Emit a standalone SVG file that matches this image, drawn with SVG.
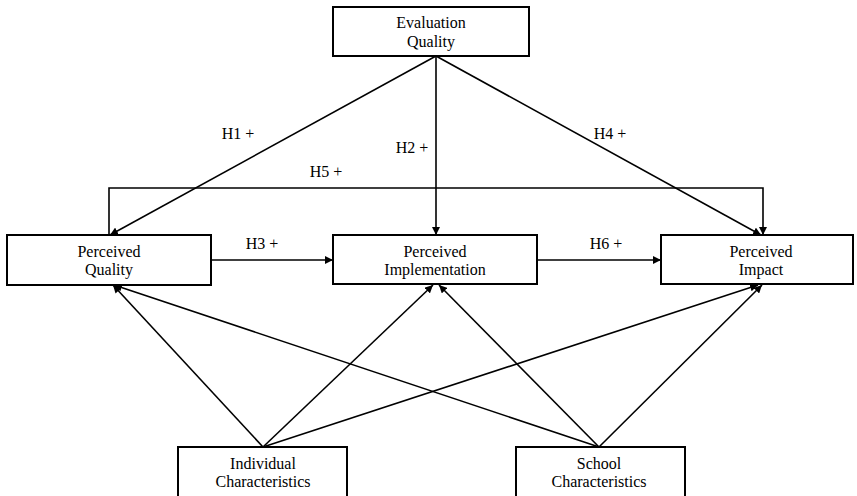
<svg xmlns="http://www.w3.org/2000/svg" width="857" height="496" viewBox="0 0 857 496">
<style>
.box{fill:#fff;stroke:#000;stroke-width:2}
.t{font-family:"Liberation Serif","Times New Roman",serif;font-size:16px;fill:#000;text-anchor:middle}
.c{stroke:#000;stroke-width:1.6;fill:none}
.a{marker-end:url(#ah)}
</style>
<defs>
<marker id="ah" viewBox="0 0 10 10" refX="10" refY="5" markerWidth="8" markerHeight="8" markerUnits="userSpaceOnUse" orient="auto">
<path d="M0,0 L10,5 L0,10 z" fill="#000"/>
</marker>
</defs>
<rect width="857" height="496" fill="#fff"/>
<g id="connectors">
<path class="c a" d="M436,56 L110,235"/>
<path class="c a" d="M436,56 L436,235"/>
<path class="c a" d="M436,56 L761,235"/>
<path class="c a" d="M109,235 L109,188 L763,188 L763,235"/>
<path class="c a" d="M211,260 L333,260"/>
<path class="c a" d="M537,260 L661,260"/>
<path class="c a" d="M263,447 L113,285"/>
<path class="c a" d="M263,447 L433,285"/>
<path class="c a" d="M263,447 L758,285"/>
<path class="c a" d="M599,447 L114,285"/>
<path class="c a" d="M599,447 L439,285"/>
<path class="c a" d="M599,447 L762,285"/>
<text class="t" x="238" y="139">H1 +</text>
<text class="t" x="412" y="153">H2 +</text>
<text class="t" x="262" y="249">H3 +</text>
<text class="t" x="610" y="139">H4 +</text>
<text class="t" x="326" y="177">H5 +</text>
<text class="t" x="606" y="249">H6 +</text>
</g>
<g id="eval">
<rect class="box" x="333" y="7" width="196" height="49"/>
<text class="t" x="431" y="28">Evaluation</text>
<text class="t" x="431" y="47">Quality</text>
</g>
<g id="pquality">
<rect class="box" x="7" y="235" width="204" height="50"/>
<text class="t" x="109" y="257">Perceived</text>
<text class="t" x="109" y="275">Quality</text>
</g>
<g id="pimpl">
<rect class="box" x="333" y="235" width="204" height="49"/>
<text class="t" x="435" y="257">Perceived</text>
<text class="t" x="435" y="275">Implementation</text>
</g>
<g id="pimpact">
<rect class="box" x="661" y="235" width="192" height="49"/>
<text class="t" x="761" y="257">Perceived</text>
<text class="t" x="761" y="275">Impact</text>
</g>
<g id="indiv">
<rect class="box" x="178" y="447" width="169" height="55"/>
<text class="t" x="263" y="469">Individual</text>
<text class="t" x="263" y="487">Characteristics</text>
</g>
<g id="school">
<rect class="box" x="516" y="447" width="169" height="55"/>
<text class="t" x="599" y="469">School</text>
<text class="t" x="599" y="487">Characteristics</text>
</g>
</svg>
